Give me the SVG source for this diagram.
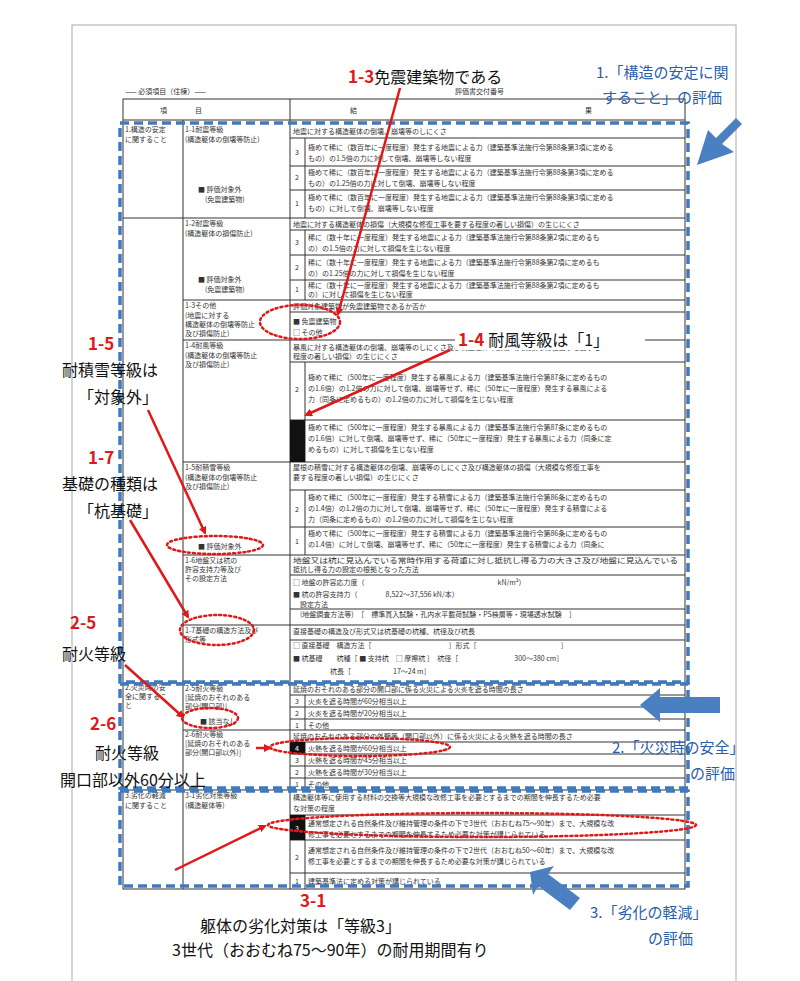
<svg xmlns="http://www.w3.org/2000/svg" width="800" height="981" viewBox="0 0 800 981">
<style>
.doc{font-family:"Noto Sans CJK JP","Liberation Sans",sans-serif;font-size:7px;fill:#333}
.ln{stroke:#333;stroke-width:1;fill:none}
.blue{fill:none;stroke:#3f79c0;stroke-width:3.5;stroke-dasharray:9 5}
.red{stroke:#e01818;stroke-width:2.5;fill:none;marker-end:url(#ah)}
.ell{fill:none;stroke:#e01818;stroke-width:2.5;stroke-dasharray:2 3;stroke-linecap:round}
.rt{font-family:"Noto Sans CJK JP","Liberation Sans",sans-serif;font-size:17px;fill:#e01818;font-weight:bold}
.bt{font-family:"Noto Sans CJK JP","Liberation Sans",sans-serif;font-size:16px;fill:#111}
.bl{font-family:"Noto Sans CJK JP","Liberation Sans",sans-serif;font-size:15px;fill:#2a5ea8}
.barrow{fill:#4a7fc1}
</style>
<defs><marker id="ah" markerWidth="8" markerHeight="8" refX="6" refY="4" orient="auto" markerUnits="userSpaceOnUse"><path d="M0,0 L8,4 L0,8 z" fill="#e01818"/></marker></defs>
<rect width="800" height="981" fill="#fff"/>
<g id="page">
<rect x="72" y="25" width="664" height="970" fill="#fff" stroke="#aaa"/>
<text class="doc" x="125" y="94" font-size="8">—— 必須項目（住棟）——</text>
<text class="doc" x="455" y="94" font-size="8">評価書交付番号</text>
<rect class="ln" x="123" y="99" width="562" height="790"/>
<line class="ln" x1="123" y1="120" x2="685" y2="120"/>
<line class="ln" x1="183" y1="120" x2="183" y2="889"/>
<line class="ln" x1="290" y1="99" x2="290" y2="889"/>
<text class="doc" x="160" y="113" font-size="9">項　　　　目</text>
<text class="doc" x="350" y="113" font-size="9">結</text>
<text class="doc" x="585" y="113" font-size="9">果</text>
<g id="rows">
<path class="ln" d="M123,218H685M183,300H685M183,340H685M183,462H685M183,555H685M183,625H685M123,683H685M183,730H685M123,790H685"/>
<path class="ln" d="M290,138H685M305,138V218M290,166H685M290,190H685
M290,230H685M305,230V300M290,255H685M290,280H685
M290,312H685M290,362H685M305,362V462M290,420H685
M290,490H685M305,490V555M290,527H685
M290,575H685M290,609H685
M290,640H685
M290,695H685M305,695V730M290,707H685M290,719H685
M290,742H685M305,742V790M290,754H685M290,766H685M290,778H685
M290,815H685M305,815V889M290,840H685M290,873H685"/>
<rect x="290" y="420" width="15" height="42" fill="#111"/>
<rect x="290" y="742" width="15" height="12" fill="#111"/>
<rect x="290" y="815" width="15" height="25" fill="#111"/>
</g>
<g class="doc">
<text x="125" y="132">1.構造の安定</text><text x="125" y="142">に関すること</text>
<text x="185" y="132">1-1耐震等級</text><text x="185" y="142">(構造躯体の倒壊等防止)</text>
<text x="198" y="192">■ 評価対象外</text><text x="205" y="202">(免震建築物)</text>
<text x="185" y="226">1-2耐震等級</text><text x="185" y="236">(構造躯体の損傷防止)</text>
<text x="198" y="282">■ 評価対象外</text><text x="205" y="292">(免震建築物)</text>
<text x="185" y="308">1-3その他</text><text x="185" y="318">(地震に対する</text><text x="185" y="327">構造躯体の倒壊等防止</text><text x="185" y="336">及び損傷防止)</text>
<text x="185" y="348">1-4耐風等級</text><text x="185" y="358">(構造躯体の倒壊等防止</text><text x="185" y="367">及び損傷防止)</text>
<text x="185" y="470">1-5耐積雪等級</text><text x="185" y="480">(構造躯体の倒壊等防止</text><text x="185" y="489">及び損傷防止)</text>
<text x="198" y="549">■ 評価対象外</text>
<text x="185" y="563">1-6地盤又は杭の</text><text x="185" y="572">許容支持力等及び</text><text x="185" y="581">その設定方法</text>
<text x="185" y="633">1-7基礎の構造方法及び</text><text x="185" y="642">形式等</text>
<text x="125" y="690">2.火災時の安</text><text x="125" y="699">全に関するこ</text><text x="125" y="708">と</text>
<text x="185" y="691">2-5耐火等級</text><text x="185" y="700">[延焼のおそれのある</text><text x="185" y="709">部分(開口部)]</text>
<text x="200" y="724">■ 該当なし</text>
<text x="185" y="737">2-6耐火等級</text><text x="185" y="746">[延焼のおそれのある</text><text x="185" y="755">部分(開口部以外)]</text>
<text x="125" y="798">3.劣化の軽減</text><text x="125" y="808">に関すること</text>
<text x="185" y="798">3-1劣化対策等級</text><text x="185" y="808">(構造躯体等)</text>
<text x="293" y="134">地震に対する構造躯体の倒壊、崩壊等のしにくさ</text>
<text x="295" y="155">3</text><text x="308" y="150">極めて稀に（数百年に一度程度）発生する地震による力（建築基準法施行令第88条第3項に定める</text><text x="308" y="161">もの）の1.5倍の力に対して倒壊、崩壊等しない程度</text>
<text x="295" y="180">2</text><text x="308" y="175">極めて稀に（数百年に一度程度）発生する地震による力（建築基準法施行令第88条第3項に定める</text><text x="308" y="186">もの）の1.25倍の力に対して倒壊、崩壊等しない程度</text>
<text x="295" y="206">1</text><text x="308" y="200">極めて稀に（数百年に一度程度）発生する地震による力（建築基準法施行令第88条第3項に定める</text><text x="308" y="211">もの）に対して倒壊、崩壊等しない程度</text>
<text x="293" y="227">地震に対する構造躯体の損傷（大規模な修復工事を要する程度の著しい損傷）の生じにくさ</text>
<text x="295" y="245">3</text><text x="308" y="240">稀に（数十年に一度程度）発生する地震による力（建築基準法施行令第88条第2項に定めるも</text><text x="308" y="251">の）の1.5倍の力に対して損傷を生じない程度</text>
<text x="295" y="270">2</text><text x="308" y="265">稀に（数十年に一度程度）発生する地震による力（建築基準法施行令第88条第2項に定めるも</text><text x="308" y="276">の）の1.25倍の力に対して損傷を生じない程度</text>
<text x="295" y="292">1</text><text x="308" y="288">稀に（数十年に一度程度）発生する地震による力（建築基準法施行令第88条第2項に定めるも</text><text x="308" y="297">の）に対して損傷を生じない程度</text>
<text x="293" y="309">評価対象建築物が免震建築物であるか否か</text>
<text x="293" y="324">■ 免震建築物</text><text x="293" y="335">□ その他</text>
<text x="293" y="350">暴風に対する構造躯体の倒壊、崩壊等のしにくさ及び構造躯体の損傷（大規模な修復工事を要する</text>
<text x="293" y="359">程度の著しい損傷）の生じにくさ</text>
<text x="295" y="392">2</text><text x="308" y="380">極めて稀に（500年に一度程度）発生する暴風による力（建築基準法施行令第87条に定めるもの</text><text x="308" y="391">の1.6倍）の1.2倍の力に対して倒壊、崩壊等せず、稀に（50年に一度程度）発生する暴風による</text><text x="308" y="402">力（同条に定めるもの）の1.2倍の力に対して損傷を生じない程度</text>
<text x="308" y="430">極めて稀に（500年に一度程度）発生する暴風による力（建築基準法施行令第87条に定めるもの</text><text x="308" y="441">の1.6倍）に対して倒壊、崩壊等せず、稀に（50年に一度程度）発生する暴風による力（同条に定</text><text x="308" y="452">めるもの）に対して損傷を生じない程度</text>
<text x="293" y="470">屋根の積雪に対する構造躯体の倒壊、崩壊等のしにくさ及び構造躯体の損傷（大規模な修復工事を</text><text x="293" y="480">要する程度の著しい損傷）の生じにくさ</text>
<text x="295" y="512">2</text><text x="308" y="500">極めて稀に（500年に一度程度）発生する積雪による力（建築基準法施行令第86条に定めるもの</text><text x="308" y="511">の1.4倍）の1.2倍の力に対して倒壊、崩壊等せず、稀に（50年に一度程度）発生する積雪による</text><text x="308" y="522">力（同条に定めるもの）の1.2倍の力に対して損傷を生じない程度</text>
<text x="295" y="544">1</text><text x="308" y="536">極めて稀に（500年に一度程度）発生する積雪による力（建築基準法施行令第86条に定めるもの</text><text x="308" y="547">の1.4倍）に対して倒壊、崩壊等せず、稀に（50年に一度程度）発生する積雪による力（同条に</text>
<text x="293" y="563" textLength="385" lengthAdjust="spacingAndGlyphs">地盤又は杭に見込んでいる常時作用する荷重に対し抵抗し得る力の大きさ及び地盤に見込んでいる</text><text x="293" y="572">抵抗し得る力の設定の根拠となった方法</text>
<text x="293" y="585">□ 地盤の許容応力度（　　　　　　　　　　　　　　　　　　　kN/m²）</text>
<text x="293" y="597">■ 杭の許容支持力（　　　　8,522〜37,556 kN/本）</text>
<text x="300" y="607">設定方法</text>
<text x="300" y="617">(地盤調査方法等)　［　標準貫入試験・孔内水平載荷試験・PS検層等・現場透水試験　］</text>
<text x="293" y="634">直接基礎の構造及び形式又は杭基礎の杭種、杭径及び杭長</text>
<text x="293" y="648">□ 直接基礎　構造方法［　　　　　　　　　　　］形式［　　　　　　　　　　　　］</text>
<text x="293" y="661">■ 杭基礎　　杭種［ ■ 支持杭　□ 摩擦杭 ］　杭径［　　　　　　　　300〜380 cm］</text>
<text x="330" y="674">杭長［　　　　　　17〜24 m］</text>
<text x="293" y="692">延焼のおそれのある部分の開口部に係る火災による火炎を遮る時間の長さ</text>
<text x="295" y="704">3</text><text x="308" y="704">火炎を遮る時間が60分相当以上</text>
<text x="295" y="716">2</text><text x="308" y="716">火炎を遮る時間が20分相当以上</text>
<text x="295" y="728">1</text><text x="308" y="728">その他</text>
<text x="293" y="739">延焼のおそれのある部分の外壁等（開口部以外）に係る火災による火熱を遮る時間の長さ</text>
<text x="295" y="751" fill="#fff">4</text><text x="308" y="751">火熱を遮る時間が60分相当以上</text>
<text x="295" y="763">3</text><text x="308" y="763">火熱を遮る時間が45分相当以上</text>
<text x="295" y="775">2</text><text x="308" y="775">火熱を遮る時間が30分相当以上</text>
<text x="295" y="787">1</text><text x="308" y="787">その他</text>
<text x="293" y="800">構造躯体等に使用する材料の交換等大規模な改修工事を必要とするまでの期間を伸長するため必要</text><text x="293" y="811">な対策の程度</text>
<text x="295" y="831" fill="#fff">3</text><text x="308" y="826">通常想定される自然条件及び維持管理の条件の下で3世代（おおむね75〜90年）まで、大規模な改</text><text x="308" y="837">修工事を必要とするまでの期間を伸長するため必要な対策が講じられている</text>
<text x="295" y="860">2</text><text x="308" y="853">通常想定される自然条件及び維持管理の条件の下で2世代（おおむね50〜60年）まで、大規模な改</text><text x="308" y="864">修工事を必要とするまでの期間を伸長するため必要な対策が講じられている</text>
<text x="295" y="884">1</text><text x="308" y="884">建築基準法に定める対策が講じられている</text>
</g>
</g>
<g id="boxes">
<rect class="blue" x="120" y="123" width="568" height="559"/>
<rect class="blue" x="120" y="684" width="568" height="104"/>
<rect class="blue" x="120" y="791" width="568" height="95"/>
</g>
<g id="blue-arrows">
<path class="barrow" d="M742,124 L722,144 L734,152 L697,165 L708,130 L716,138 L736,118 z"/>
<path class="barrow" d="M640,705 L660,688 L660,697 L720,697 L720,713 L660,713 L660,722 z"/>
<path class="barrow" d="M530,872 L554,866 L548,874 L580,898 L570,910 L538,886 L533,895 z"/>
</g>
<g id="ellipses">
<ellipse class="ell" cx="300" cy="322" rx="40" ry="17"/>
<ellipse class="ell" cx="215" cy="545" rx="48" ry="9"/>
<ellipse class="ell" cx="217" cy="630" rx="37" ry="15"/>
<ellipse class="ell" cx="210" cy="718" rx="28" ry="10"/>
<ellipse class="ell" cx="360" cy="747" rx="90" ry="9"/>
<ellipse class="ell" cx="482" cy="825" rx="214" ry="12"/>
</g>
<g id="connectors">
<line class="red" x1="400" y1="88" x2="338" y2="314"/>
<line class="red" x1="450" y1="350" x2="306" y2="415"/>
<line class="red" x1="148" y1="410" x2="205" y2="533"/>
<line class="red" x1="130" y1="520" x2="188" y2="617"/>
<line class="red" x1="125" y1="665" x2="183" y2="717"/>
<line class="red" x1="256" y1="748" x2="270" y2="748"/>
<line class="red" x1="175" y1="870" x2="265" y2="826"/>
</g>
<g id="labels">
<text x="348" y="83"><tspan class="rt">1-3</tspan><tspan class="bt">免震建築物である</tspan></text>
<text class="bl" x="596" y="78">1.「構造の安定に関</text>
<text class="bl" x="602" y="103">すること」の評価</text>
<rect x="455" y="326" width="190" height="24" fill="#fff"/>
<text x="458" y="346"><tspan class="rt" font-size="20">1-4 </tspan><tspan class="bt" font-size="18">耐風等級は「1」</tspan></text>
<text class="rt" x="88" y="350">1-5</text>
<text class="bt" x="62" y="376">耐積雪等級は</text>
<text class="bt" x="78" y="403">「対象外」</text>
<text class="rt" x="88" y="464">1-7</text>
<text class="bt" x="62" y="490">基礎の種類は</text>
<text class="bt" x="78" y="517">「杭基礎」</text>
<text class="rt" x="70" y="629">2-5</text>
<text class="bt" x="62" y="660">耐火等級</text>
<text class="rt" x="90" y="730">2-6</text>
<text class="bt" x="95" y="759">耐火等級</text>
<text class="bt" x="60" y="786">開口部以外60分以上</text>
<text class="bl" x="612" y="753">2.「火災時の安全」</text>
<text class="bl" x="690" y="779">の評価</text>
<text class="rt" x="300" y="907">3-1</text>
<text class="bt" x="200" y="932">躯体の劣化対策は「等級3」</text>
<text class="bt" x="172" y="956">3世代（おおむね75〜90年）の耐用期間有り</text>
<text class="bl" x="590" y="918">3.「劣化の軽減」</text>
<text class="bl" x="648" y="944">の評価</text>
</g>
</svg>
